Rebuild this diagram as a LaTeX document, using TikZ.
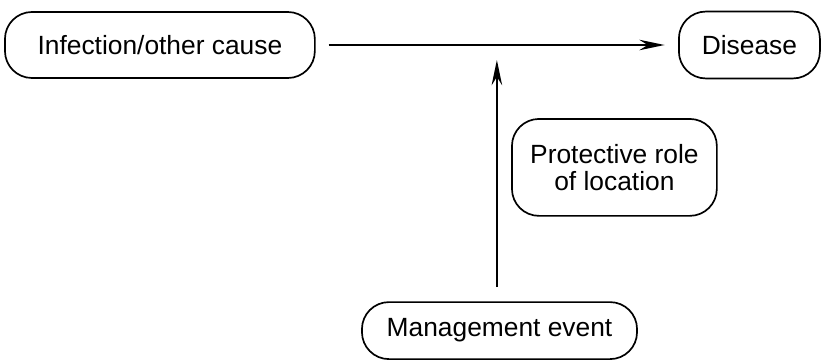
\documentclass[tikz,border=0pt]{standalone}
\usepackage{fontspec}
\setmainfont{Liberation Sans}
\usepackage{tikz}
\usetikzlibrary{arrows.meta}
\usetikzlibrary{calc}
\tikzset{bx/.style={draw, line width=1.6pt, rounded corners=0.9cm, inner sep=0pt, align=center, font=\fontsize{25}{26}\selectfont}}
\tikzset{ln/.style={line width=1.6pt, -{Stealth[length=24pt,width=10pt,inset=8pt]}}}

\begin{document}
\begin{tikzpicture}
    \useasboundingbox (0,0) rectangle (27.4,12);
    \node[bx, minimum width=10.33cm, minimum height=2.2cm] (cause) at (5.33,10.5) {Infection/other cause};
    \node[bx, minimum width=4.7cm, minimum height=2.23cm] (disease) at (24.98,10.5) {Disease};
    \node[bx, minimum width=6.83cm, minimum height=3.23cm] (role) at (20.48,6.42) {Protective role\\of location};
    \node[bx, minimum width=9.17cm, minimum height=1.9cm] (event) at (16.65,0.98) {Management event};
    \coordinate (mid) at ($(cause.east)!0.5!(disease.west)$);
    \draw[ln, shorten <=0.43cm, shorten >=0.45cm] (cause) -- (disease);
    \draw[ln, shorten <=0.47cm, shorten >=0.5cm] (event.north -| mid) -- (mid);
  \end{tikzpicture}
\end{document}
